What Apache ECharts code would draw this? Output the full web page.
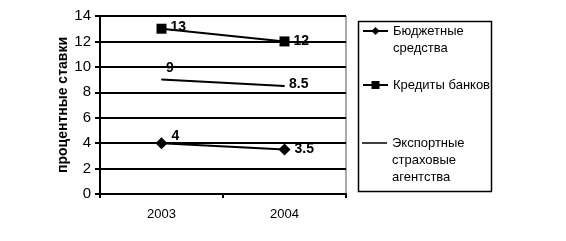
<!DOCTYPE html>
<html><head><meta charset="utf-8">
<script src="https://cdn.jsdelivr.net/npm/echarts@6/dist/echarts.min.js"></script>
<style>html,body{margin:0;padding:0;background:#fff}#c{width:566px;height:241px}</style>
</head><body><div id="c"></div>
<script>
var categories = ['2003', '2004'];
var budget = [4, 3.5];
var bankCredits = [13, 12];
var exportAgencies = [9, 8.5];
var yTicks = [0, 2, 4, 6, 8, 10, 12, 14];
var seriesNames = ['Бюджетные\nсредства', 'Кредиты банков', 'Экспортные\nстраховые\nагентства'];

var chart = echarts.init(document.getElementById('c'));
var font = 'Liberation Sans Narrow, Liberation Sans, Arial, sans-serif';
var lblStyle = {show: true, color: '#000', fontFamily: font, fontSize: 14, fontWeight: 'bold'};
var legTxt = {color: '#000', fontFamily: font, fontSize: 13, lineHeight: 17};
function leg(name, top, icon) {
  var d = {name: name};
  if (icon) d.icon = icon;
  return {orient: 'vertical', left: 362, top: top, padding: 0, itemWidth: 25, itemHeight: 10,
    textStyle: legTxt, data: [d],
    formatter: function (n) {
      var k = n.split('\n').length - 1, pre = '';
      for (var i = 0; i < k; i++) pre += ' \n';
      return pre + n;
    }};
}
chart.setOption({
  animation: false,
  backgroundColor: '#fff',
  grid: {left: 100, right: 220, top: 16, bottom: 47, show: true, borderColor: '#555', borderWidth: 1},
  xAxis: {
    type: 'category', data: categories, boundaryGap: true,
    axisLine: {lineStyle: {color: '#000', width: 2}},
    axisTick: {show: true, length: 4, lineStyle: {color: '#000', width: 2}},
    axisLabel: {color: '#000', fontFamily: font, fontSize: 13, margin: 14}
  },
  yAxis: {
    type: 'value', min: yTicks[0], max: yTicks[yTicks.length - 1], interval: 2,
    name: 'процентные ставки', nameLocation: 'middle', nameGap: 24, nameRotate: 90,
    nameTextStyle: {color: '#000', fontFamily: font, fontSize: 14, fontWeight: 'bold'},
    axisLine: {show: true, lineStyle: {color: '#000', width: 2}},
    axisTick: {show: true, length: 5, lineStyle: {color: '#000', width: 2}},
    axisLabel: {color: '#000', fontFamily: font, fontSize: 15, margin: 9},
    splitLine: {lineStyle: {color: '#000', width: 2}}
  },
  legend: [
    leg(seriesNames[0], 5.5),
    leg(seriesNames[1], 76.5),
    leg(seriesNames[2], 100.5, 'path://M0,4L25,4L25,5.5L0,5.5Z')
  ],
  graphic: [{type: 'rect', left: 356, top: 19, shape: {width: 133, height: 170},
    style: {fill: 'none', stroke: '#000', lineWidth: 1.5}, silent: true}],
  series: [
    {name: seriesNames[0], type: 'line', data: budget, symbol: 'diamond', symbolSize: 12,
     itemStyle: {color: '#000'}, lineStyle: {color: '#000', width: 2},
     label: Object.assign({}, lblStyle, {position: 'right', distance: 4}),
     labelLayout: function (p) { return p.dataIndex === 0 ? {dy: -7} : {}; }},
    {name: seriesNames[1], type: 'line', data: bankCredits, symbol: 'rect', symbolSize: 10,
     itemStyle: {color: '#000'}, lineStyle: {color: '#000', width: 2},
     label: Object.assign({}, lblStyle, {position: 'right', distance: 4}),
     labelLayout: function (p) { return p.dataIndex === 0 ? {dy: -2} : {}; }},
    {name: seriesNames[2], type: 'line', data: exportAgencies, symbol: 'circle', symbolSize: 1,
     itemStyle: {color: '#000'}, lineStyle: {color: '#000', width: 2},
     label: Object.assign({}, lblStyle, {position: 'right', distance: 4}),
     labelLayout: function (p) { return p.dataIndex === 0 ? {dy: -11} : {dy: -2}; }}
  ]
});
</script></body></html>
